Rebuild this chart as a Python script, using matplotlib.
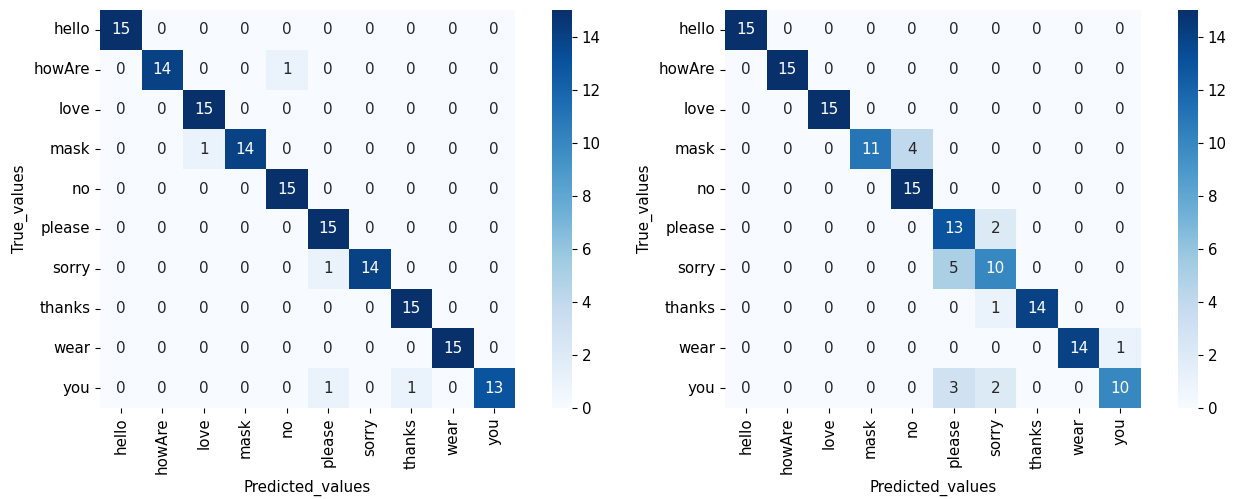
import numpy as np
import matplotlib
matplotlib.use("Agg")
import matplotlib.pyplot as plt
import seaborn as sns

labels = ["hello", "howAre", "love", "mask", "no", "please", "sorry", "thanks", "wear", "you"]

# матрица ошибок первой модели
cm_first = [
    [15, 0, 0, 0, 0, 0, 0, 0, 0, 0],
    [0, 14, 0, 0, 1, 0, 0, 0, 0, 0],
    [0, 0, 15, 0, 0, 0, 0, 0, 0, 0],
    [0, 0, 1, 14, 0, 0, 0, 0, 0, 0],
    [0, 0, 0, 0, 15, 0, 0, 0, 0, 0],
    [0, 0, 0, 0, 0, 15, 0, 0, 0, 0],
    [0, 0, 0, 0, 0, 1, 14, 0, 0, 0],
    [0, 0, 0, 0, 0, 0, 0, 15, 0, 0],
    [0, 0, 0, 0, 0, 0, 0, 0, 15, 0],
    [0, 0, 0, 0, 0, 1, 0, 1, 0, 13],
]

# матрица ошибок второй модели
cm_second = [
    [15, 0, 0, 0, 0, 0, 0, 0, 0, 0],
    [0, 15, 0, 0, 0, 0, 0, 0, 0, 0],
    [0, 0, 15, 0, 0, 0, 0, 0, 0, 0],
    [0, 0, 0, 11, 4, 0, 0, 0, 0, 0],
    [0, 0, 0, 0, 15, 0, 0, 0, 0, 0],
    [0, 0, 0, 0, 0, 13, 2, 0, 0, 0],
    [0, 0, 0, 0, 0, 5, 10, 0, 0, 0],
    [0, 0, 0, 0, 0, 0, 1, 14, 0, 0],
    [0, 0, 0, 0, 0, 0, 0, 0, 14, 1],
    [0, 0, 0, 0, 0, 3, 2, 0, 0, 10],
]

plt.rcParams["font.size"] = 10.8


def draw_matrix(fig, cm, ax_rect, cbar_rect):
    """Тепловая карта матрицы ошибок с цветовой шкалой"""
    ax = fig.add_axes(ax_rect)
    cax = fig.add_axes(cbar_rect)
    sns.heatmap(np.array(cm), annot=True, fmt="d", cmap="Blues",
                xticklabels=labels, yticklabels=labels,
                annot_kws={"fontsize": 11},
                ax=ax, cbar_ax=cax)
    ax.set_xlabel("Predicted_values")
    ax.set_ylabel("True_values")
    ax.tick_params(axis="x", rotation=90)
    ax.tick_params(axis="y", rotation=0)
    return ax


def main() -> None:
    W, H = 1237, 499
    fig = plt.figure(figsize=(W / 100, H / 100), dpi=100)
    bottom = (H - 408) / H
    height = 398 / H
    draw_matrix(fig, cm_first, [100 / W, bottom, 415 / W, height],
                [552 / W, bottom, 20 / W, height])
    draw_matrix(fig, cm_second, [725 / W, bottom, 416 / W, height],
                [1178 / W, bottom, 20 / W, height])
    fig.savefig("out.png", dpi=100)


if __name__ == "__main__":
    main()
